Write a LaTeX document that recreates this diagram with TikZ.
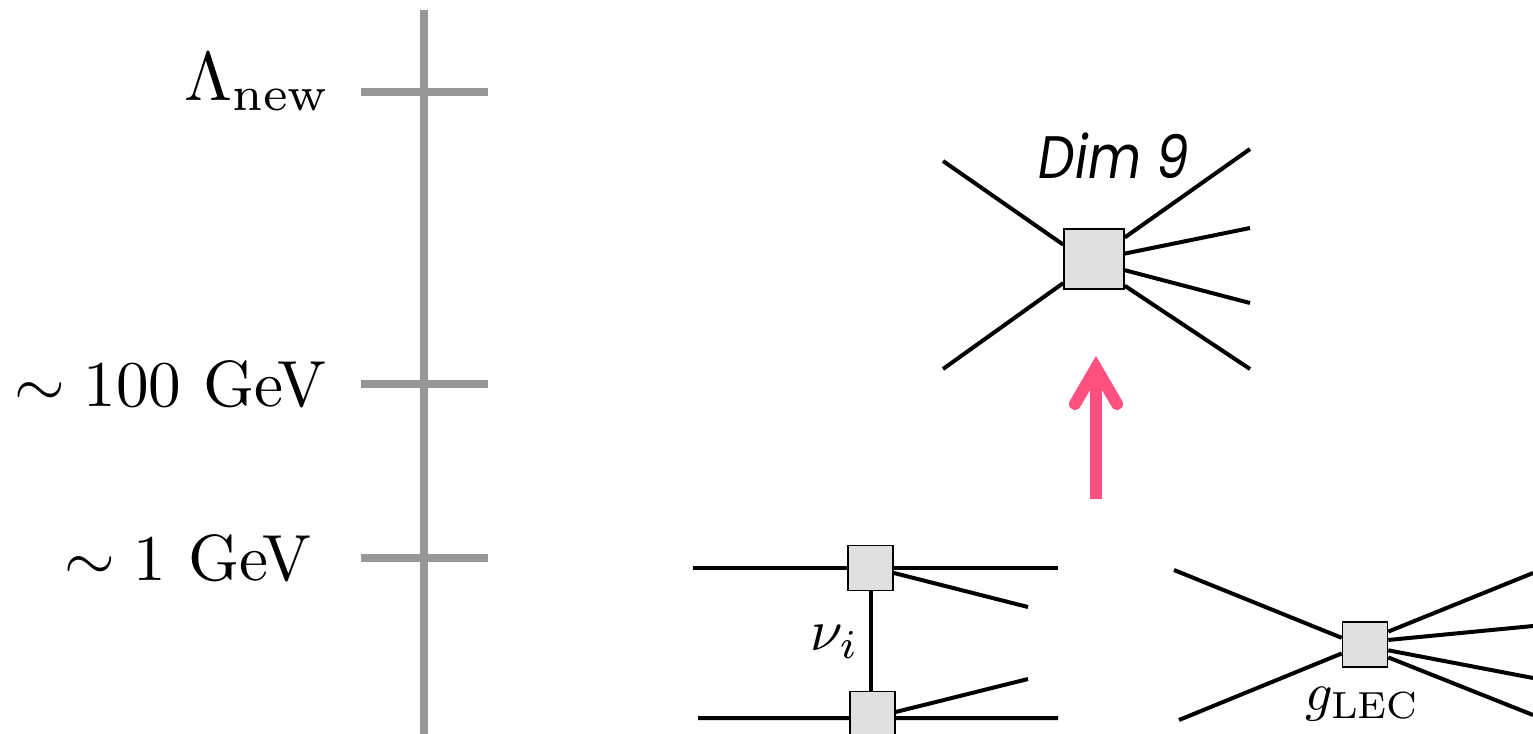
\documentclass[tikz,border=0pt]{standalone}
\usepackage{fontspec}
\newfontfamily\dimfont[FakeStretch=0.86]{Poppins}
\usetikzlibrary{arrows.meta}
\definecolor{scalegray}{HTML}{979797}
\definecolor{boxgray}{HTML}{E0E0E0}
\definecolor{flowpink}{HTML}{FF5080}
\begin{document}
\begin{tikzpicture}[x=0.5pt,y=-0.5pt,
    scaleline/.style={draw=scalegray,line width=4pt},
    scalelabel/.style={anchor=east,inner sep=0pt,scale=3.26},
    smalllabel/.style={inner sep=0pt,scale=2.7},
    opbox/.style={draw=black,fill=boxgray,line width=0.8pt,inner sep=0pt,minimum size=#1},
    leg/.style={line width=2pt}]
  \useasboundingbox (0,0) rectangle (1533,734);
  % energy scale
  \coordinate (axistop) at (424,10);
  \coordinate (axisbot) at (424,734);
  \draw[scaleline] (axistop) -- (axisbot);
  \coordinate (newL) at (361,92);
  \coordinate (newR) at (488,92);
  \coordinate (ewL) at (361,384);
  \coordinate (ewR) at (488,384);
  \coordinate (qcdL) at (361,558);
  \coordinate (qcdR) at (488,558);
  \draw[scaleline] (newL) -- (newR);
  \draw[scaleline] (ewL) -- (ewR);
  \draw[scaleline] (qcdL) -- (qcdR);
  \node[scalelabel,scale=1.06] (lnew) at (332,82) {$\Lambda_{\rm new}$};
  \node[scalelabel] (lew) at (328,384) {$\sim 100$ GeV};
  \node[scalelabel] (lqcd) at (313,558) {$\sim 1$ GeV};
  % dimension nine vertex
  \node[opbox=30pt] (dimnine) at (1094,259) {};
  \node[inner sep=0pt,font=\dimfont\itshape\fontsize{30}{34}\selectfont] (dimlabel) at (1114,156) {Dim 9};
  \coordinate (dimA) at (943,161);
  \coordinate (dimB) at (943,369);
  \coordinate (dimC) at (1250,149);
  \coordinate (dimD) at (1250,228);
  \coordinate (dimE) at (1250,303);
  \coordinate (dimF) at (1250,369);
  \draw[leg] (dimA) -- (dimnine.155);
  \draw[leg] (dimB) -- (dimnine.218);
  \draw[leg] (dimC) -- (dimnine.35);
  \draw[leg] (dimD) -- (dimnine.10);
  \draw[leg] (dimE) -- (dimnine.-20);
  \draw[leg] (dimF) -- (dimnine.-41);
  % matching arrow
  \coordinate (flowfoot) at (1096,499);
  \coordinate (flowtip) at (1096,356);
  \draw[flowpink,line width=6pt,-{Straight Barb[line cap=round,line join=miter,length=18pt,width=21pt]}] (flowfoot) -- (flowtip);
  % neutrino exchange
  \node[opbox=22.5pt] (nutop) at (870.5,568) {};
  \node[opbox=22.5pt] (nubot) at (872.5,714) {};
  \coordinate (topL) at (693,568);
  \coordinate (topR) at (1058,568);
  \coordinate (topS) at (1028,607);
  \coordinate (botL) at (698,718);
  \coordinate (botR) at (1058,718);
  \coordinate (botS) at (1028,679);
  \draw[leg] (topL) -- (nutop.west);
  \draw[leg] (topR) -- (nutop.east);
  \draw[leg] (topS) -- (nutop.-12);
  \draw[leg] (botL) -- (nubot.190);
  \draw[leg] (botR) -- (nubot.-10);
  \draw[leg] (botS) -- (nubot.5);
  \draw[leg] (nutop.south) -- (nutop.south |- nubot.north);
  \node[smalllabel,scale=1.08] (nulabel) at (835,642) {$\nu_i$};
  % contact term
  \node[opbox=22.5pt] (lec) at (1365,644.5) {};
  \coordinate (lecA) at (1174,570);
  \coordinate (lecB) at (1179,720);
  \coordinate (lecC) at (1533,573);
  \coordinate (lecD) at (1533,626);
  \coordinate (lecE) at (1533,678);
  \coordinate (lecF) at (1533,715);
  \draw[leg] (lecA) -- (lec.164);
  \draw[leg] (lecB) -- (lec.201);
  \draw[leg] (lecC) -- (lec.29);
  \draw[leg] (lecD) -- (lec.11);
  \draw[leg] (lecE) -- (lec.-14);
  \draw[leg] (lecF) -- (lec.-29);
  \node[smalllabel] (leclabel) at (1363,704) {$g_{\rm LEC}$};
\end{tikzpicture}
\end{document}
